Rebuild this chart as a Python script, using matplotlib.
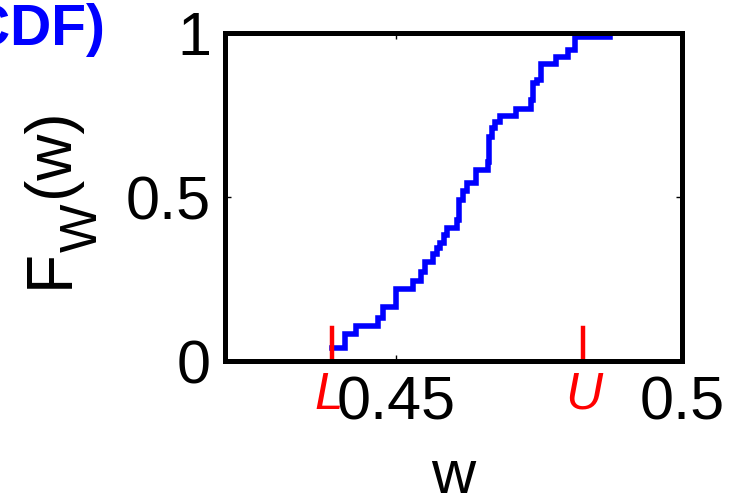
import numpy as np
import matplotlib
matplotlib.use('Agg')
import matplotlib.pyplot as plt

plt.rcParams['font.family'] = ['Liberation Sans', 'DejaVu Sans']

w_jumps = [0.4387, 0.4410, 0.4429, 0.4468, 0.4477, 0.4499, 0.4529, 0.4543,
           0.4550, 0.4564, 0.4571, 0.4576, 0.4583, 0.4589, 0.4606, 0.4610,
           0.4617, 0.4624, 0.4639, 0.4660, 0.4662, 0.4667, 0.4673, 0.4681,
           0.4709, 0.4736, 0.4739, 0.4746, 0.4753, 0.4779, 0.4800, 0.4813]
F_levels = [0.04, 0.082, 0.107, 0.131, 0.165, 0.22, 0.244, 0.271,
            0.302, 0.326, 0.345, 0.36, 0.384, 0.405, 0.43, 0.49,
            0.52, 0.543, 0.582, 0.607, 0.683, 0.71, 0.729, 0.747,
            0.768, 0.796, 0.848, 0.857, 0.905, 0.927, 0.948, 0.988]
w_end = 0.4874

L_val = 0.4387
U_val = 0.4827
bar_top = 0.1

xticks = [0.45, 0.5]
xticklabels = ['0.45', '0.5']
yticks = [0, 0.5, 1]
yticklabels = ['0', '0.5', '1']

W, H = 735, 494
fig = plt.figure(figsize=(W / 100, H / 100), dpi=100)
ax = fig.add_axes([0.306, 0.269, 0.622, 0.664])

x = w_jumps + [w_end]
y = F_levels + [F_levels[-1]]
ax.step(x, y, where='post', color='#0000ff', lw=4, solid_joinstyle='miter')

ax.plot([L_val, L_val], [0, bar_top], color='red', lw=3.2, clip_on=False)
ax.plot([U_val, U_val], [0, bar_top], color='red', lw=3.2, clip_on=False)
ax.text(L_val - 0.0005, -0.03, 'L', color='red', fontsize=37, style='italic',
        ha='center', va='top')
ax.text(U_val + 0.0001, -0.03, 'U', color='red', fontsize=37, style='italic',
        ha='center', va='top')

ax.set_xlim(0.42, 0.5)
ax.set_ylim(0, 1)
ax.set_xticks(xticks)
ax.set_xticklabels(xticklabels)
ax.set_yticks(yticks)
ax.set_yticklabels(yticklabels)
ax.tick_params(direction='in', length=4, width=1, labelsize=44, pad=10,
               top=True, right=True)
for s in ax.spines.values():
    s.set_linewidth(3.6)

ax.set_xlabel('w', fontsize=44, labelpad=12)

# y label F_W(w), built from pieces so the subscript sits like the original
kw = dict(rotation=90, rotation_mode='anchor', ha='left', va='baseline')
fig.text(68 / W, 1 - 288 / H, 'F', fontsize=46, **kw)
fig.text(97 / W, 1 - 252 / H, 'W', fontsize=37, **kw)
fig.text(68 / W, 1 - 197 / H, '(w)', fontsize=46, **kw)

fig.text(105 / W, 1 - 30 / H, 'ECDF)', color='#0000ff', fontsize=41,
         fontweight='bold', ha='right', va='center')

fig.savefig('out.png', dpi=100)
